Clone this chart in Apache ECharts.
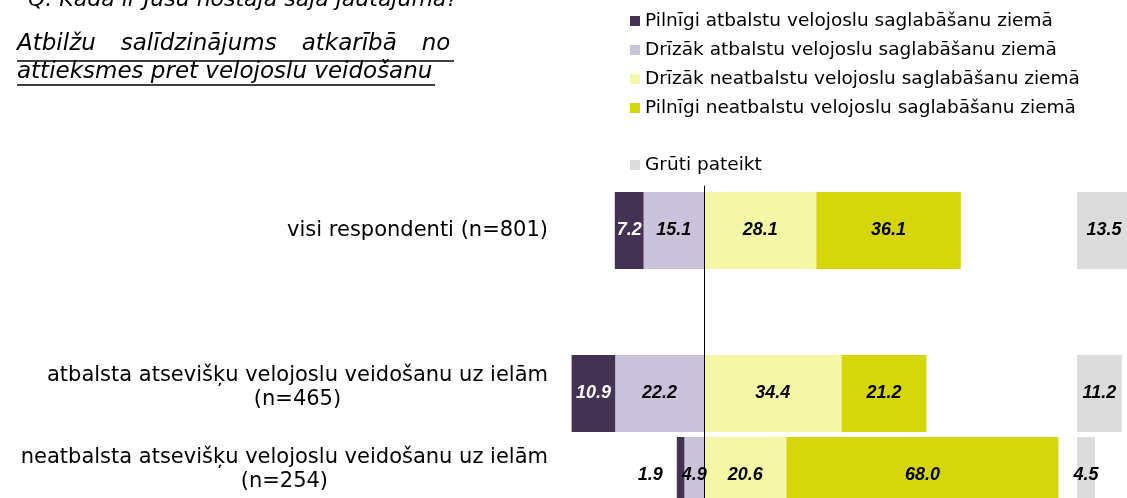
<!DOCTYPE html>
<html>
<head>
<meta charset="utf-8">
<script src="https://cdn.jsdelivr.net/npm/echarts@6/dist/echarts.min.js"></script>
<style>
  html, body { margin: 0; padding: 0; background: #fff; }
  #chart { width: 1127px; height: 498px; }
</style>
</head>
<body>
<div id="chart"></div>
<script>
// respondentu grupas
const rowNames = [
  'visi respondenti (n=801)',
  'atbalsta atsevišķu velojoslu veidošanu uz ielām\n(n=465)',
  'neatbalsta atsevišķu velojoslu veidošanu uz ielām\n(n=254)'
];
const answerNames = [
  'Pilnīgi atbalstu velojoslu saglabāšanu ziemā',
  'Drīzāk atbalstu velojoslu saglabāšanu ziemā',
  'Drīzāk neatbalstu velojoslu saglabāšanu ziemā',
  'Pilnīgi neatbalstu velojoslu saglabāšanu ziemā',
  'Grūti pateikt'
];
// vērtības (%)
const fullySupport = [7.2, 10.9, 1.9];
const ratherSupport = [15.1, 22.2, 4.9];
const ratherNot = [28.1, 34.4, 20.6];
const fullyNot = [36.1, 21.2, 68.0];
const hardToSay = [13.5, 11.2, 4.5];

const colors = ['#433252', '#cbc3dc', '#f4f8a6', '#d5d60b', '#dcdcdc'];
const FONT = 'DejaVu Sans';

// rindu izvietojums (px)
const rowTops = [192, 355, 437];
const barH = 77;

const chart = echarts.init(document.getElementById('chart'));

const grid = [];
const xAxis = [];
const yAxis = [];
const series = [];

const valueLabel = {
  show: true,
  position: 'inside',
  fontFamily: 'Liberation Sans',
  fontSize: 18,
  fontStyle: 'italic',
  fontWeight: 'bold',
  color: '#000',
  formatter: p => Math.abs(p.value).toFixed(1)
};

// negatīvā puse: vispirms "drīzāk", tad "pilnīgi" (kraujas uz kreiso pusi)
const segments = [
  { name: answerNames[1], data: ratherSupport, sign: -1, color: colors[1] },
  { name: answerNames[0], data: fullySupport, sign: -1, color: colors[0], labelColor: '#fff' },
  { name: answerNames[2], data: ratherNot, sign: 1, color: colors[2] },
  { name: answerNames[3], data: fullyNot, sign: 1, color: colors[3] }
];

rowNames.forEach((row, r) => {
  // galvenā daļa
  const twoLines = row.indexOf('\n') >= 0;
  grid.push({ left: 544, width: 520, top: rowTops[r], height: barH, outerBoundsMode: 'none' });
  xAxis.push({ type: 'value', gridIndex: r, min: -40, max: 90, show: false });
  yAxis.push({
    type: 'category', gridIndex: r, data: [row],
    axisLine: { show: false, onZero: false },
    axisTick: { show: false },
    axisLabel: {
      margin: -4,
      align: 'right',
      padding: twoLines ? [0, 0, 12, 0] : 0,
      formatter: v => v.split('\n').map(s => '{c|' + s + '}').join('\n'),
      rich: { c: { align: 'center', fontFamily: FONT, fontSize: 21, lineHeight: 24, color: '#000' } }
    }
  });
  segments.forEach(seg => {
    const v = seg.sign * seg.data[r];
    const item = { value: v };
    if (seg.labelColor) item.label = { color: seg.labelColor };
    if (Math.abs(v) < 3) item.label = { position: 'left', distance: 14, color: '#000' };
    series.push({
      type: 'bar', name: seg.name, xAxisIndex: r, yAxisIndex: r,
      stack: 'row' + r, barWidth: barH, clip: false,
      itemStyle: { color: seg.color },
      label: valueLabel,
      data: [item]
    });
  });
});

// "Grūti pateikt" atsevišķā kolonnā (tā pati skala: 4 px uz 1 %)
rowNames.forEach((row, r) => {
  const g = 3 + r;
  grid.push({ left: 1077, width: 100, top: rowTops[r], height: barH, outerBoundsMode: 'none' });
  xAxis.push({ type: 'value', gridIndex: g, min: 0, max: 25, show: false });
  yAxis.push({ type: 'category', gridIndex: g, data: [row], show: false });
  series.push({
    type: 'bar', name: answerNames[4], xAxisIndex: g, yAxisIndex: g,
    barWidth: barH, clip: false,
    itemStyle: { color: colors[4] },
    label: valueLabel,
    data: [hardToSay[r]]
  });
});

// vertikālā nulles līnija
grid.push({ left: 544, width: 520, top: 186, height: 330, outerBoundsMode: 'none' });
xAxis.push({ type: 'value', gridIndex: 6, min: -40, max: 90, show: false, axisLine: { onZero: false } });
yAxis.push({
  type: 'value', gridIndex: 6, min: 0, max: 1, z: 10,
  axisLine: { show: true, onZero: true, lineStyle: { color: '#000', width: 1 } },
  axisTick: { show: false }, axisLabel: { show: false }, splitLine: { show: false }
});

const legendText = { fontFamily: FONT, fontSize: 18.5, color: '#000', lineHeight: 20 };

chart.setOption({
  animation: false,
  backgroundColor: '#fff',
  legend: [
    {
      orient: 'vertical', left: 625, top: 6, itemWidth: 10, itemHeight: 10, itemGap: 9,
      icon: 'rect', selectedMode: false, textStyle: legendText,
      data: answerNames.slice(0, 4)
    },
    {
      orient: 'vertical', left: 625, top: 150, itemWidth: 10, itemHeight: 10,
      icon: 'rect', selectedMode: false, textStyle: legendText,
      data: [answerNames[4]]
    }
  ],
  grid, xAxis, yAxis, series,
  graphic: [
    {
      type: 'text', left: 28, top: -11,
      style: { text: 'Q. Kāda ir Jūsu nostāja šajā jautājumā?', fontFamily: FONT, fontSize: 22, fontStyle: 'italic', fill: '#000' }
    },
    {
      type: 'text', left: 17, top: 33,
      style: {
        text: 'Atbilžu{g| }salīdzinājums{g| }atkarībā{g| }no',
        fontFamily: FONT, fontSize: 23, fontStyle: 'italic', fill: '#000',
        rich: { g: { width: 25 } }
      }
    },
    {
      type: 'text', left: 17, top: 61,
      style: { text: 'attieksmes pret velojoslu veidošanu', fontFamily: FONT, fontSize: 23, fontStyle: 'italic', fill: '#000' }
    },
    { type: 'line', shape: { x1: 17, y1: 61, x2: 454, y2: 61 }, style: { stroke: '#000', lineWidth: 1.5 } },
    { type: 'line', shape: { x1: 17, y1: 85, x2: 435, y2: 85 }, style: { stroke: '#000', lineWidth: 1.5 } }
  ]
});
</script>
</body>
</html>
